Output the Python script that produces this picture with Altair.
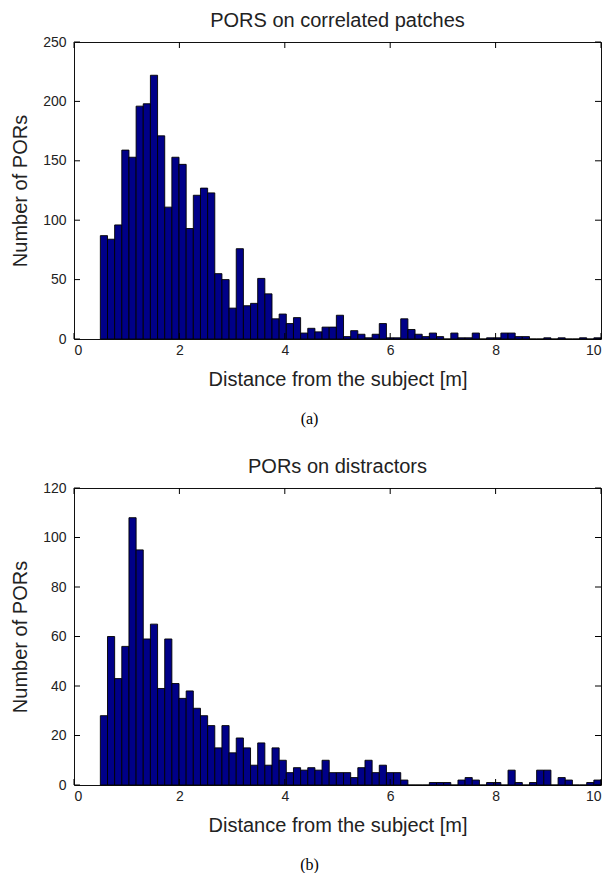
import altair as alt
import numpy as np
import pandas as pd

# 70 equal-width histogram bins covering 0.5 m .. 10 m
BIN_LO, BIN_HI, N_BINS = 0.5, 10.0, 70
edges = np.linspace(BIN_LO, BIN_HI, N_BINS + 1)

# counts per bin, panel (a): PORs on correlated patches
correlated_counts = [
    87, 84, 96, 159, 153, 196, 198, 222, 171, 111,
    153, 147, 93, 121, 127, 123, 55, 50, 26, 76,
    28, 30, 51, 38, 17, 21, 13, 18, 5, 9,
    6, 10, 10, 20, 2, 7, 4, 1, 4, 13,
    1, 1, 17, 8, 4, 2, 5, 2, 0, 5,
    1, 1, 5, 0, 1, 1, 5, 5, 2, 2,
    0, 0, 1, 0, 1, 0, 0, 1, 0, 1,
]

# counts per bin, panel (b): PORs on distractors
distractor_counts = [
    28, 60, 43, 56, 108, 95, 59, 65, 39, 59,
    41, 35, 38, 31, 28, 24, 15, 24, 13, 19,
    15, 8, 17, 8, 15, 10, 5, 7, 6, 7,
    6, 10, 5, 5, 5, 3, 7, 10, 5, 8,
    5, 5, 2, 0, 0, 0, 1, 1, 1, 0,
    2, 3, 2, 0, 1, 1, 0, 6, 1, 0,
    1, 6, 6, 0, 3, 2, 0, 0, 1, 2,
]

x_ticks = [0, 2, 4, 6, 8, 10]
correlated_y_ticks = [0, 50, 100, 150, 200, 250]
distractor_y_ticks = [0, 20, 40, 60, 80, 100, 120]

W, H = 527, 297
TICK_LEN = 6
BAR_FILL = "#000088"
SANS = "Liberation Sans"
SERIF = "Liberation Serif"
TEXT_COLOR = "#222222"


def panel(counts, y_max, y_ticks, title, caption):
    bins = pd.DataFrame({"start": edges[:-1], "end": edges[1:], "count": counts})
    xs = alt.Scale(domain=[0, 10], nice=False, zero=False)
    ys = alt.Scale(domain=[0, y_max], nice=False)
    x_axis = alt.Axis(values=x_ticks, title="Distance from the subject [m]", format="d")
    y_axis = alt.Axis(values=y_ticks, title="Number of PORs", format="d")

    bars = alt.Chart(bins).mark_rect(
        fill=BAR_FILL, stroke="black", strokeWidth=0.9
    ).encode(
        x=alt.X("start:Q", scale=xs, axis=x_axis),
        x2="end:Q",
        y=alt.Y("count:Q", scale=ys, axis=y_axis),
        y2=alt.datum(0),
    )

    # inward tick marks on all four sides of the box
    xt = pd.DataFrame({"v": x_ticks})
    yt = pd.DataFrame({"v": y_ticks})
    tick_style = dict(color="black", strokeWidth=1)
    x_bottom = alt.Chart(xt).mark_rule(**tick_style).encode(
        x=alt.X("v:Q", scale=xs, axis=x_axis), y=alt.value(H), y2=alt.value(H - TICK_LEN))
    x_top = alt.Chart(xt).mark_rule(**tick_style).encode(
        x=alt.X("v:Q", scale=xs, axis=x_axis), y=alt.value(0), y2=alt.value(TICK_LEN))
    y_left = alt.Chart(yt).mark_rule(**tick_style).encode(
        y=alt.Y("v:Q", scale=ys, axis=y_axis), x=alt.value(0), x2=alt.value(TICK_LEN))
    y_right = alt.Chart(yt).mark_rule(**tick_style).encode(
        y=alt.Y("v:Q", scale=ys, axis=y_axis), x=alt.value(W), x2=alt.value(W - TICK_LEN))

    cap = alt.Chart(pd.DataFrame({"t": [caption]})).mark_text(
        font=SERIF, fontSize=16, color="black", baseline="alphabetic", align="center"
    ).encode(text="t:N", x=alt.value(W / 2 - 28), y=alt.value(H + 85))

    return alt.layer(bars, x_bottom, x_top, y_left, y_right, cap).properties(
        width=W, height=H,
        title=alt.TitleParams(title, font=SANS, fontSize=20, fontWeight="normal",
                              color=TEXT_COLOR, offset=4, anchor="middle"),
    )


top = panel(correlated_counts, 250, correlated_y_ticks, "PORS on correlated patches", "(a)")
bottom = panel(distractor_counts, 120, distractor_y_ticks, "PORs on distractors", "(b)")

chart = alt.vconcat(top, bottom, spacing=28).properties(
    padding={"left": 10, "top": 10, "right": 1, "bottom": 2},
    background="white",
).configure_view(
    stroke="#111111", strokeWidth=1
).configure_axis(
    grid=False, domain=False, ticks=False,
    labelFont=SANS, labelFontSize=14, labelColor=TEXT_COLOR, labelPadding=5,
    titleFont=SANS, titleFontSize=20, titleFontWeight="normal", titleColor=TEXT_COLOR,
).configure_axisY(
    labelPadding=8, titlePadding=12,
).configure_axisX(
    labelPadding=4, titlePadding=12,
)

chart.save("out.html", embed_options={"renderer": "svg", "actions": False})
